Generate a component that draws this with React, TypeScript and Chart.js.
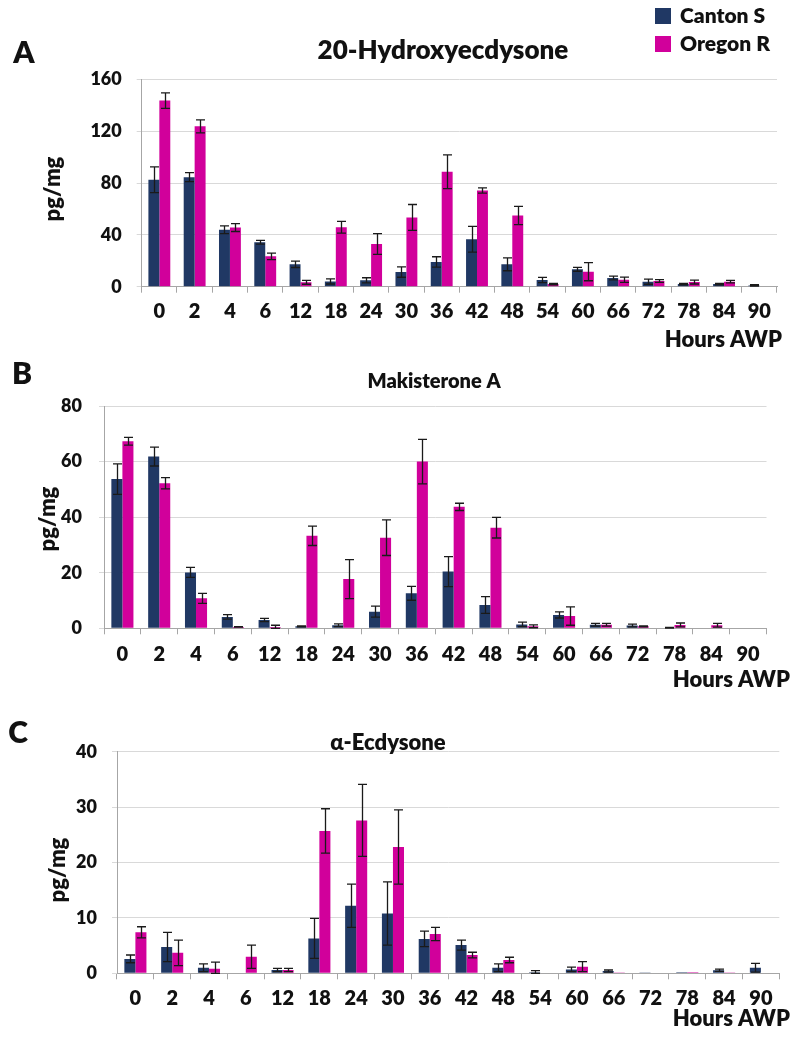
import React, { useEffect, useRef } from 'react';
import { Chart, registerables } from 'chart.js';

Chart.register(...registerables);

// ---------- data ----------
const hours = ['0', '2', '4', '6', '12', '18', '24', '30', '36', '42', '48', '54', '60', '66', '72', '78', '84', '90'];
const seriesNames = ['Canton S', 'Oregon R'];
const seriesColors = ['#203864', '#d1009b'];

// 20-Hydroxyecdysone
const hydroxyCanton = [82.5, 84.5, 44, 34.3, 17.3, 4.1, 4.9, 11.3, 19.1, 36.6, 17.3, 5.2, 13.4, 6.7, 3.9, 2, 2, 1];
const hydroxyCantonErr = [10, 3.5, 3, 1.5, 2.5, 2, 2, 4, 4, 10, 5, 2, 1.5, 1.5, 2, 0.5, 0.5, 0.5];
const hydroxyOregon = [143.6, 123.7, 45.6, 23.4, 3.4, 45.9, 33, 53.4, 88.7, 74.2, 54.9, 2, 11.6, 5.4, 4.4, 3.6, 3.9, 0];
const hydroxyOregonErr = [6, 5, 3, 2.5, 1.5, 4.5, 8, 10, 13, 2, 7, 0.5, 7, 2, 1, 1.5, 1, 0];

// Makisterone A
const makiCanton = [53.7, 61.8, 20.1, 4.1, 3, 0.7, 1.1, 6, 12.6, 20.4, 8.4, 1.4, 4.8, 1.3, 1, 0.2, 0, 0];
const makiCantonErr = [5.5, 3.4, 1.8, 0.8, 0.6, 0.2, 0.5, 2, 2.5, 5.4, 3, 0.8, 1.1, 0.5, 0.5, 0.1, 0, 0];
const makiOregon = [67.3, 52.2, 10.8, 0.5, 0.5, 33.3, 17.7, 32.6, 60, 43.7, 36.2, 0.7, 4.4, 1.3, 0.7, 1.2, 1.1, 0];
const makiOregonErr = [1.4, 2, 1.8, 0.1, 0.6, 3.5, 7, 6.4, 8, 1.3, 3.7, 0.5, 3.3, 0.5, 0.2, 0.7, 0.7, 0];

// alpha-Ecdysone
const alphaCanton = [2.6, 4.75, 1.0, 0, 0.6, 6.3, 12.2, 10.8, 6.2, 5.1, 1.0, 0.2, 0.7, 0.4, 0.15, 0.2, 0.55, 1.0];
const alphaCantonErr = [0.7, 2.65, 0.7, 0, 0.3, 3.6, 3.9, 5.7, 1.4, 0.9, 0.7, 0.3, 0.4, 0.2, 0, 0, 0.2, 0.8];
const alphaOregon = [7.4, 3.7, 0.8, 3.0, 0.6, 25.7, 27.6, 22.8, 7.1, 3.3, 2.4, 0, 1.2, 0.15, 0, 0.2, 0.15, 0];
const alphaOregonErr = [1.0, 2.3, 1.2, 2.1, 0.3, 4, 6.5, 6.7, 1.2, 0.5, 0.5, 0, 0.9, 0, 0, 0, 0, 0];

const yTicksA = [0, 40, 80, 120, 160];
const yTicksB = [0, 20, 40, 60, 80];
const yTicksC = [0, 10, 20, 30, 40];

const titles = ['20-Hydroxyecdysone', 'Makisterone A', 'α-Ecdysone'];
const letters = ['A', 'B', 'C'];
const yTitle = 'pg/mg';
const xTitle = 'Hours AWP';

const FONT = 'Lato, "Open Sans", sans-serif';
const WEIGHT = '800';
const TEXT = '#111111';

// ---------- plugins ----------
const errorBarPlugin = {
  id: 'errorBars',
  afterDatasetsDraw(chart: any, _a: any, opts: any) {
    const errs = opts.errors;
    if (!errs) return;
    const ctx = chart.ctx;
    const y = chart.scales.y;
    ctx.save();
    ctx.strokeStyle = '#1a1a1a';
    ctx.lineWidth = 1.3;
    chart.data.datasets.forEach((ds: any, i: number) => {
      const meta = chart.getDatasetMeta(i);
      meta.data.forEach((bar: any, j: number) => {
        const v = ds.data[j];
        const e = errs[i][j];
        if (!e) return;
        const x = Math.round(bar.x) + 0.5;
        const top = y.getPixelForValue(v + e);
        const bot = y.getPixelForValue(Math.max(0, v - e));
        const cap = 4.5;
        ctx.beginPath();
        ctx.moveTo(x, top);
        ctx.lineTo(x, bot);
        ctx.moveTo(x - cap, top);
        ctx.lineTo(x + cap, top);
        ctx.moveTo(x - cap, bot);
        ctx.lineTo(x + cap, bot);
        ctx.stroke();
      });
    });
    ctx.restore();
  },
};

const textPlugin = {
  id: 'panelText',
  afterDraw(chart: any, _a: any, opts: any) {
    const ctx = chart.ctx;
    const items = opts.items || [];
    for (const t of items) {
      ctx.save();
      ctx.fillStyle = TEXT;
      ctx.font = `${WEIGHT} ${t.size}px ${FONT}`;
      ctx.textAlign = t.align || 'center';
      ctx.textBaseline = 'middle';
      ctx.translate(t.x, t.y);
      if (t.rotate) ctx.rotate(t.rotate);
      ctx.fillText(t.text, 0, 0);
      ctx.restore();
    }
    const lg = opts.legend;
    if (lg) {
      chart.data.datasets.forEach((ds: any, i: number) => {
        const yy = lg.y + i * lg.gap;
        ctx.save();
        ctx.fillStyle = ds.backgroundColor;
        ctx.fillRect(lg.x, yy, lg.box, lg.box);
        ctx.fillStyle = TEXT;
        ctx.font = `${WEIGHT} ${lg.size}px ${FONT}`;
        ctx.textAlign = 'left';
        ctx.textBaseline = 'middle';
        ctx.fillText(ds.label, lg.x + lg.box + 9, yy + lg.box / 2);
        ctx.restore();
      });
    }
  },
};

type PanelCfg = {
  top: number;
  height: number;
  areaTop: number;
  areaBottom: number;
  areaLeft: number;
  areaRight: number;
  canton: number[];
  cantonErr: number[];
  oregon: number[];
  oregonErr: number[];
  yTicks: number[];
  catPct: number;
  yPad: number;
  xPad: number;
  items: any[];
  legend?: any;
};

function Panel({ cfg }: { cfg: PanelCfg }) {
  const ref = useRef<HTMLCanvasElement | null>(null);
  useEffect(() => {
    if (!ref.current) return;
    const W = 794;
    const yMax = cfg.yTicks[cfg.yTicks.length - 1];
    const chart = new Chart(ref.current, {
      type: 'bar',
      data: {
        labels: hours,
        datasets: [
          { label: seriesNames[0], data: cfg.canton, backgroundColor: seriesColors[0], borderWidth: 0 },
          { label: seriesNames[1], data: cfg.oregon, backgroundColor: seriesColors[1], borderWidth: 0 },
        ],
      },
      options: {
        responsive: false,
        animation: false,
        events: [],
        layout: {
          padding: { left: 0, top: cfg.areaTop, right: W - cfg.areaRight, bottom: 0 },
        },
        datasets: { bar: { barPercentage: 1, categoryPercentage: cfg.catPct } },
        plugins: {
          legend: { display: false },
          title: { display: false },
          tooltip: { enabled: false },
          errorBars: { errors: [cfg.cantonErr, cfg.oregonErr] },
          panelText: { items: cfg.items, legend: cfg.legend },
        },
        scales: {
          x: {
            offset: true,
            grid: {
              display: true,
              drawOnChartArea: false,
              drawTicks: true,
              tickLength: 6,
              color: '#a6a6a6',
              offset: true,
            },
            border: { display: true, color: '#a6a6a6', width: 1 },
            ticks: {
              color: TEXT,
              font: { family: FONT, weight: WEIGHT, size: 20 },
              padding: cfg.xPad,
              maxRotation: 0,
              autoSkip: false,
            },
            afterFit: (s: any) => {
              s.height = cfg.height - cfg.areaBottom;
            },
          },
          y: {
            min: 0,
            max: yMax,
            afterBuildTicks: (s: any) => {
              s.ticks = cfg.yTicks.map((v) => ({ value: v }));
            },
            grid: { color: '#d9d9d9', tickLength: 5, drawTicks: true },
            border: { display: true, color: '#a6a6a6', width: 1 },
            ticks: {
              color: TEXT,
              font: { family: FONT, weight: WEIGHT, size: 18 },
              padding: cfg.yPad,
            },
            afterFit: (s: any) => {
              s.width = cfg.areaLeft;
            },
          },
        },
      },
      plugins: [errorBarPlugin, textPlugin],
    } as any);
    return () => chart.destroy();
  }, [cfg]);
  return (
    <canvas
      ref={ref}
      width={794}
      height={cfg.height}
      style={{ position: 'absolute', left: 0, top: cfg.top, width: 794, height: cfg.height }}
    />
  );
}

const ROT = -Math.PI / 2;

const panels: PanelCfg[] = [
  {
    top: 0,
    height: 350,
    areaTop: 79.3,
    areaBottom: 286.7,
    areaLeft: 141.7,
    areaRight: 777,
    canton: hydroxyCanton,
    cantonErr: hydroxyCantonErr,
    oregon: hydroxyOregon,
    oregonErr: hydroxyOregonErr,
    yTicks: yTicksA,
    catPct: 0.62,
    yPad: 15,
    xPad: 7,
    items: [
      { text: letters[0], x: 24, y: 53, size: 30 },
      { text: titles[0], x: 443, y: 51, size: 26 },
      { text: yTitle, x: 53, y: 189, size: 22, rotate: ROT },
      { text: xTitle, x: 782, y: 340, size: 22, align: 'right' },
    ],
    legend: { x: 655, y: 8, gap: 28, box: 16, size: 21 },
  },
  {
    top: 350,
    height: 350,
    areaTop: 56,
    areaBottom: 278.3,
    areaLeft: 104,
    areaRight: 766.5,
    canton: makiCanton,
    cantonErr: makiCantonErr,
    oregon: makiOregon,
    oregonErr: makiOregonErr,
    yTicks: yTicksB,
    catPct: 0.6,
    yPad: 17,
    xPad: 8,
    items: [
      { text: letters[1], x: 22, y: 24, size: 30 },
      { text: titles[1], x: 434, y: 32, size: 20 },
      { text: yTitle, x: 48, y: 169, size: 22, rotate: ROT },
      { text: xTitle, x: 790, y: 330, size: 22, align: 'right' },
    ],
  },
  {
    top: 700,
    height: 345,
    areaTop: 51.7,
    areaBottom: 273.3,
    areaLeft: 117,
    areaRight: 779.3,
    canton: alphaCanton,
    cantonErr: alphaCantonErr,
    oregon: alphaOregon,
    oregonErr: alphaOregonErr,
    yTicks: yTicksC,
    catPct: 0.6,
    yPad: 15,
    xPad: 7,
    items: [
      { text: letters[2], x: 18, y: 33, size: 30 },
      { text: titles[2], x: 388, y: 43, size: 22 },
      { text: yTitle, x: 58, y: 170, size: 22, rotate: ROT },
      { text: xTitle, x: 790, y: 319, size: 22, align: 'right' },
    ],
  },
];

export default function App() {
  return (
    <div style={{ position: 'absolute', left: 0, top: 0, width: 794, height: 1045, background: '#ffffff' }}>
      {panels.map((p, i) => (
        <Panel key={i} cfg={p} />
      ))}
    </div>
  );
}
